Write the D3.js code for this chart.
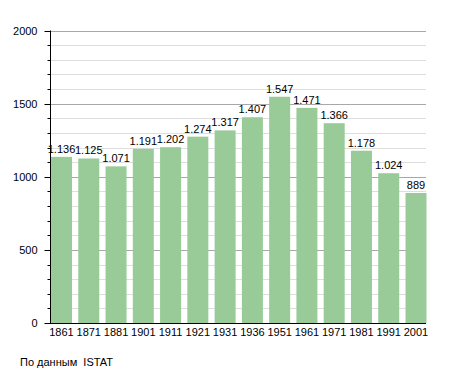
<!DOCTYPE html>
<html>
<head>
<meta charset="utf-8">
<script src="https://cdn.jsdelivr.net/npm/d3@7"></script>
<style>
  body { margin: 0; background: #fff; }
  text { font-family: "Liberation Sans", Arial, sans-serif; }
</style>
</head>
<body>
<div id="chart"></div>
<script>
const years  = ['1861','1871','1881','1901','1911','1921','1931','1936','1951','1961','1971','1981','1991','2001'];
const values = [1136, 1125, 1071, 1191, 1202, 1274, 1317, 1407, 1547, 1471, 1366, 1178, 1024, 889];
const yTicks = [0, 500, 1000, 1500, 2000];
const minorTicks = d3.range(0, 2001, 100);
const source = 'По данным  ISTAT';

const barFill = '#98cb98';
const W = 455, H = 373;

const svg = d3.select('#chart').append('svg').attr('width', W).attr('height', H);

const x = d3.scaleBand().domain(years).range([51, 426.5]).paddingInner(0.23).paddingOuter(0).align(0);
const y = d3.scaleLinear().domain([0, 2000]).range([323, 30.5]);

// minor grid
svg.append('g').selectAll('line').data(minorTicks.filter(v => v % 500 !== 0)).join('line')
  .attr('x1', 50).attr('x2', 426)
  .attr('y1', d => Math.round(y(d)) + 0.5).attr('y2', d => Math.round(y(d)) + 0.5)
  .attr('stroke', '#dedede').attr('stroke-width', 1);

// major grid
svg.append('g').selectAll('line').data(yTicks.filter(v => v > 0)).join('line')
  .attr('x1', 50).attr('x2', 426)
  .attr('y1', d => Math.round(y(d)) + 0.5).attr('y2', d => Math.round(y(d)) + 0.5)
  .attr('stroke', '#a8a8a8').attr('stroke-width', 1);

// bars
svg.append('g').selectAll('rect').data(values).join('rect')
  .attr('x', (d, i) => x(years[i]))
  .attr('y', d => y(d))
  .attr('width', x.bandwidth())
  .attr('height', d => y(0) - y(d))
  .attr('fill', barFill);

// value labels
const fmt = v => v >= 1000 ? Math.floor(v / 1000) + '.' + String(v % 1000).padStart(3, '0') : String(v);
svg.append('g').selectAll('text').data(values).join('text')
  .attr('x', (d, i) => x(years[i]) + x.bandwidth() / 2)
  .attr('y', d => y(d) - 4)
  .attr('text-anchor', 'middle')
  .style('font-size', '11px').style('fill', '#000')
  .text(fmt);

// y axis
const yAxis = svg.append('g').attr('transform', 'translate(50.5,0)');
yAxis.append('line').attr('y1', y(2000)).attr('y2', y(0)).attr('stroke', '#000');
yAxis.selectAll('.minor').data(minorTicks.filter(v => v % 500 !== 0)).join('line')
  .attr('class', 'minor')
  .attr('x1', -3).attr('x2', 0)
  .attr('y1', d => Math.round(y(d)) + 0.5).attr('y2', d => Math.round(y(d)) + 0.5)
  .attr('stroke', '#000');
yAxis.selectAll('.major').data(yTicks).join('line')
  .attr('class', 'major')
  .attr('x1', -6).attr('x2', 0)
  .attr('y1', d => Math.round(y(d)) + 0.5).attr('y2', d => Math.round(y(d)) + 0.5)
  .attr('stroke', '#000');
yAxis.selectAll('text').data(yTicks).join('text')
  .attr('x', -13).attr('y', d => y(d) + 4)
  .attr('text-anchor', 'end')
  .style('font-size', '11px').style('fill', '#000')
  .text(d => d);

// x axis
svg.append('line').attr('x1', 50).attr('x2', 426)
  .attr('y1', y(0) + 0.5).attr('y2', y(0) + 0.5).attr('stroke', '#000');
svg.append('g').selectAll('text').data(years).join('text')
  .attr('x', d => x(d) + x.bandwidth() / 2)
  .attr('y', y(0) + 12.5)
  .attr('text-anchor', 'middle')
  .style('font-size', '11px').style('fill', '#000')
  .text(d => d);

svg.append('text').attr('x', 20).attr('y', 366)
  .style('font-size', '11px').style('fill', '#000')
  .style('white-space', 'pre')
  .text(source);
</script>
</body>
</html>
